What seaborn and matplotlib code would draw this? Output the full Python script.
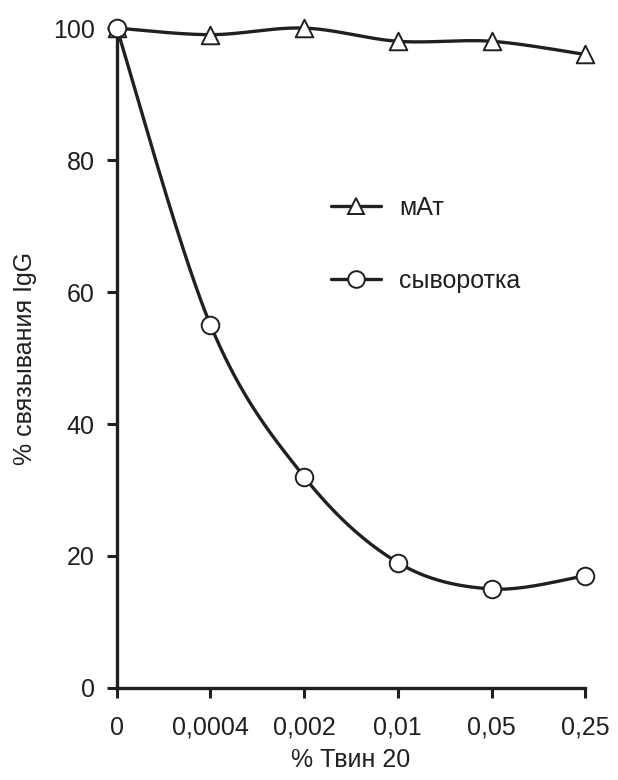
import numpy as np
import matplotlib
matplotlib.use("Agg")
import matplotlib.pyplot as plt
from matplotlib.lines import Line2D
import seaborn as sns

# data
tween_labels = ["0", "0,0004", "0,002", "0,01", "0,05", "0,25"]
mab_values = [100, 99, 100, 98, 98, 96]
serum_values = [100, 55, 32, 19, 15, 17]


def smooth(xs, ys, n=40):
    """Excel-style smoothed line (Catmull-Rom through the points)"""
    pts = np.column_stack([xs, ys]).astype(float)
    padded = np.vstack([pts[0], pts, pts[-1]])
    t = np.linspace(0, 1, n)[:, None]
    out = []
    for i in range(len(pts) - 1):
        p0, p1, p2, p3 = padded[i], padded[i + 1], padded[i + 2], padded[i + 3]
        c1 = p1 + (p2 - p0) / 6
        c2 = p2 - (p3 - p1) / 6
        seg = ((1 - t) ** 3) * p1 + 3 * ((1 - t) ** 2) * t * c1 + 3 * (1 - t) * t ** 2 * c2 + t ** 3 * p2
        out.append(seg)
    out = np.vstack(out)
    return out[:, 0], out[:, 1]


sns.set_theme(style="ticks")
plt.rcParams['font.family'] = ['Liberation Sans', 'DejaVu Sans']

fig = plt.figure(figsize=(6.18, 7.8), dpi=100)
ax = fig.add_axes([0.189, 0.118, 0.758, 0.846])

x = np.arange(len(tween_labels))
fs = 18
lw = 2.4
ink = '#231f20'

for vals, marker in [(mab_values, '^'), (serum_values, 'o')]:
    sx, sy = smooth(x, vals)
    ax.plot(sx, sy, color=ink, lw=lw, clip_on=False, zorder=2)
    sns.scatterplot(x=x, y=vals, ax=ax, marker=marker, s=160, color='white',
                    edgecolor=ink, linewidth=1.4, clip_on=False, zorder=3,
                    legend=False)

ax.set_xlim(0, 5)
ax.set_ylim(0, 100)
ax.set_xticks(x)
ax.set_xticklabels(tween_labels)
ax.set_yticks(range(0, 101, 20))
ax.tick_params(axis='both', labelsize=fs, colors=ink, length=7, width=2.2)
ax.tick_params(axis='x', pad=13)
ax.tick_params(axis='y', pad=9)
for side in ['top', 'right']:
    ax.spines[side].set_visible(False)
for side in ['left', 'bottom']:
    ax.spines[side].set_linewidth(2.4)
    ax.spines[side].set_color(ink)

ax.set_xlabel("% Твин 20", fontsize=fs, color=ink, labelpad=6)
ax.set_ylabel("% связывания IgG", fontsize=fs, color=ink, labelpad=11)

handles = [
    Line2D([], [], color=ink, lw=lw, marker='^', markersize=12,
           markerfacecolor='white', markeredgecolor=ink, markeredgewidth=1.4),
    Line2D([], [], color=ink, lw=lw, marker='o', markersize=12,
           markerfacecolor='white', markeredgecolor=ink, markeredgewidth=1.4),
]
ax.legend(handles, ["мАт", "сыворотка"], loc='upper left', bbox_to_anchor=(0.41, 0.78),
          frameon=False, fontsize=fs, handlelength=2.0, labelspacing=1.95,
          handletextpad=0.7, labelcolor=ink)

fig.savefig("out.png", dpi=100, facecolor='white')
